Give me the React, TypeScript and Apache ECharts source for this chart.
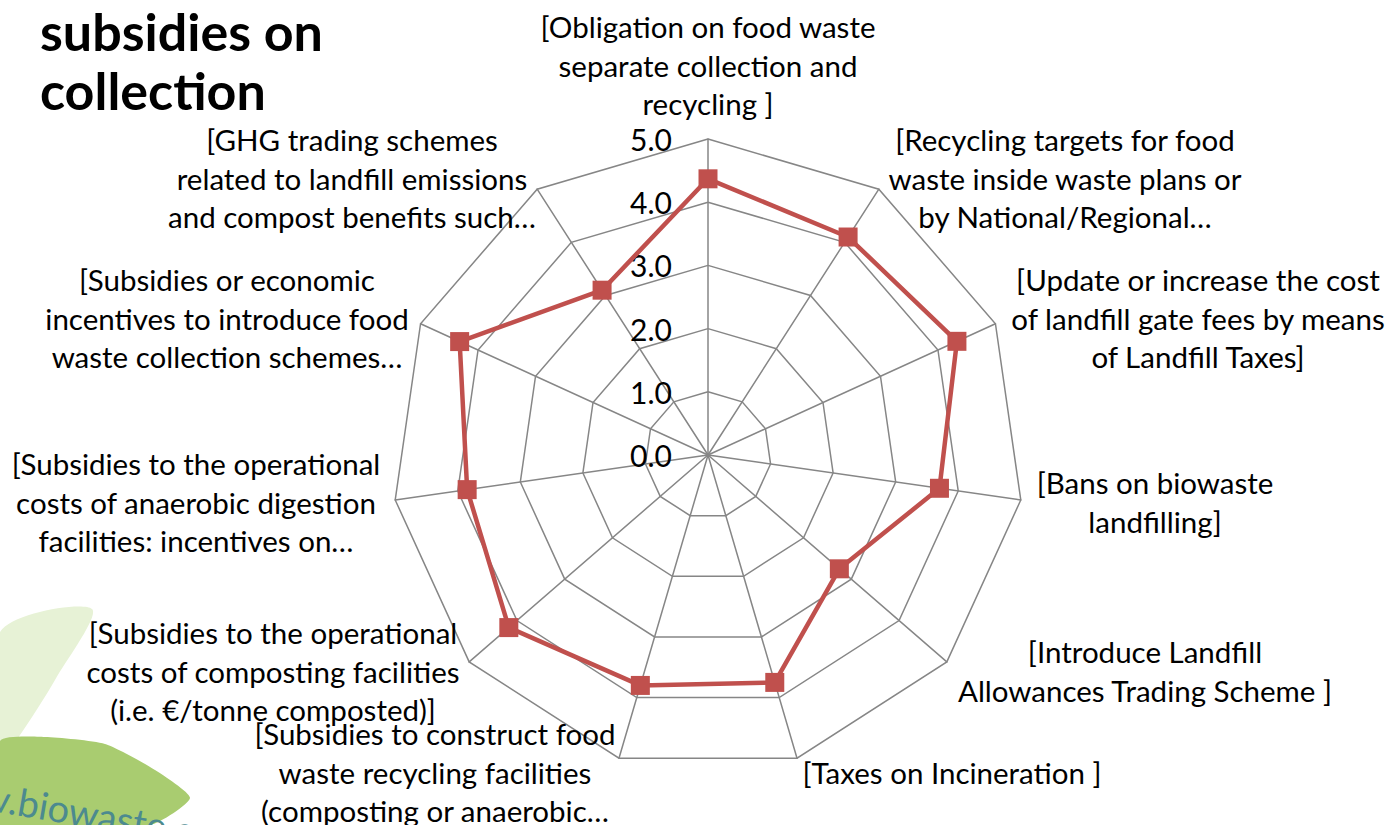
import React, { useEffect, useRef } from 'react';
import * as echarts from 'echarts';

// Indicators in clockwise order starting at the top (as in the reference)
const categories: string[] = [
  '[Obligation on food waste\nseparate collection and\nrecycling ]',
  '[Recycling targets for food\nwaste inside waste plans or\nby National/Regional…',
  '[Update or increase the cost\nof landfill gate fees by means\nof Landfill Taxes]',
  '[Bans on biowaste\nlandfilling]',
  '[Introduce Landfill\nAllowances Trading Scheme ]',
  '[Taxes on Incineration ]',
  '[Subsidies to construct food\nwaste recycling facilities\n(composting or anaerobic…',
  '[Subsidies to the operational\ncosts of composting facilities\n(i.e. €/tonne composted)]',
  '[Subsidies to the operational\ncosts of anaerobic digestion\nfacilities: incentives on…',
  '[Subsidies or economic\nincentives to introduce food\nwaste collection schemes…',
  '[GHG trading schemes\nrelated to landfill emissions\nand compost benefits such…',
];

const values: number[] = [4.37, 4.1, 4.33, 3.7, 2.75, 3.75, 3.8, 4.17, 3.85, 4.32, 3.1];

const axisMin = 0;
const axisMax = 5;
const splitCount = 5;

const titleText = 'subsidies on\ncollection';
const watermarkText = 'w.biowaste.eu';

// Layout: centre of each indicator label block (px)
const labelCenters: number[][] = [
  [708, 65], [1065, 178], [1198, 318], [1155, 502], [1145, 671], [952, 772],
  [435, 772], [273, 671], [196, 502], [227, 318], [352, 178],
];

export default function App() {
  const ref = useRef<HTMLDivElement>(null);
  useEffect(() => {
    if (!ref.current) return;
    const chart = echarts.init(ref.current, null, { renderer: 'svg' });
    // ECharts places radar indicators counter-clockwise; reorder to get clockwise
    const order = [0, ...categories.map((_, i) => i).slice(1).reverse()];
    const indicator = order.map((i, k) => {
      const ind: any = { name: categories[i], min: axisMin, max: axisMax };
      if (k === 0) {
        ind.axisLabel = {
          show: true,
          fontFamily: 'Lato',
          fontSize: 30,
          color: '#000',
          margin: 36,
          formatter: (v: number) => v.toFixed(1),
        };
      }
      return ind;
    });
    const data = order.map((i) => values[i]);
    const font = 'Lato';
    const labelGraphics = categories.map((c, i) => ({
      type: 'text',
      x: labelCenters[i][0],
      y: labelCenters[i][1],
      z: 50,
      style: {
        text: c,
        fontFamily: font,
        fontSize: 29.5,
        lineHeight: 38.5,
        fill: '#000',
        align: 'center',
        verticalAlign: 'middle',
      },
    }));
    chart.setOption({
      animation: false,
      backgroundColor: '#fff',
      graphic: [
        {
          type: 'polygon',
          z: 0,
          shape: { points: [[0, 632], [92, 609], [55, 680], [20, 735], [0, 760]], smooth: 0.3 },
          style: { fill: '#e7f2d6' },
        },
        {
          type: 'polygon',
          z: 0,
          shape: {
            points: [[0, 741], [45, 737], [105, 744], [155, 770], [190, 798], [150, 825], [0, 825]],
            smooth: 0.2,
          },
          style: { fill: '#a9cc70' },
        },
        {
          type: 'text',
          z: 1,
          x: -19,
          y: 794,
          rotation: -0.17,
          style: {
            text: watermarkText,
            fontFamily: font,
            fontSize: 38,
            fill: '#4c8a8f',
            align: 'left',
            verticalAlign: 'middle',
          },
        },
        {
          type: 'text',
          z: 50,
          x: 40,
          y: 60,
          style: {
            text: titleText,
            fontFamily: font,
            fontWeight: 'bold',
            fontSize: 52,
            lineHeight: 59,
            fill: '#000',
            align: 'left',
            verticalAlign: 'middle',
          },
        },
        ...labelGraphics,
      ],
      radar: {
        center: [708, 455],
        radius: 316,
        shape: 'polygon',
        splitNumber: splitCount,
        startAngle: 90,
        indicator,
        axisName: { show: false },
        axisLabel: { show: false },
        axisLine: { lineStyle: { color: '#868686', width: 1.5 } },
        splitLine: { lineStyle: { color: '#868686', width: 1.5 } },
        splitArea: { show: false },
      },
      series: [
        {
          type: 'radar',
          z: 10,
          symbol: 'rect',
          symbolSize: 19,
          lineStyle: { color: '#C0504D', width: 4.5 },
          itemStyle: { color: '#C0504D' },
          data: [{ value: data }],
        },
      ],
    });
    return () => chart.dispose();
  }, []);
  return (
    <div
      ref={ref}
      style={{ position: 'fixed', left: 0, top: 0, width: 1388, height: 825 }}
    />
  );
}
